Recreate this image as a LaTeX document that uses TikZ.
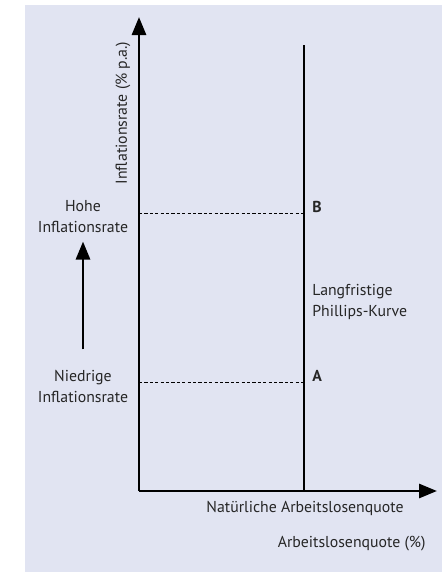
\documentclass[tikz,border=0pt]{standalone}
\usepackage{fontspec}
\setmainfont{PT Sans}
\usepackage{tikz}
\usetikzlibrary{arrows.meta,positioning}
\definecolor{bgblue}{RGB}{225,228,242}

\begin{document}
\begin{tikzpicture}[x=0.5pt, y=-0.5pt]
    % Define styles
    \tikzstyle{axis} = [line width=1.4pt, -{Triangle[length=9pt,width=7pt]}]
    \tikzstyle{curve} = [line width=1.4pt]
    \tikzstyle{level} = [dash pattern=on 1.6pt off 1.1pt, line width=0.5pt]
    \tikzstyle{txt} = [font=\fontsize{7.9}{10.5}\selectfont, align=center, inner sep=0pt, text=black!85]

    % Background
    \useasboundingbox (0,0) rectangle (442,573);
    \fill[bgblue] (25,5) rectangle (442,572);

    % Coordinates
    \coordinate (origin) at (139,491);
    \coordinate (ytop) at (139,17);
    \coordinate (xend) at (437,491);
    \coordinate (lptop) at (304,45);
    \coordinate (lpfoot) at (304,491);
    \coordinate (yb) at (139,213);
    \coordinate (pb) at (304,213);
    \coordinate (ya) at (139,382);
    \coordinate (pa) at (304,382);

    % Nodes
    \node[txt, rotate=90] (ylabel) at (123,113) {Inflationsrate (\% p.a.)};
    \node[txt] (high) at (83,217) {Hohe\\Inflationsrate};
    \node[txt] (low) at (83,386) {Niedrige\\Inflationsrate};
    \node[txt, anchor=west, font=\fontsize{7.9}{10.5}\selectfont\bfseries] (labb) at (312,207) {B};
    \node[txt, anchor=west, font=\fontsize{7.9}{10.5}\selectfont\bfseries] (laba) at (312,376) {A};
    \node[txt, anchor=west, align=left] (lpc) at (312,302) {Langfristige\\Phillips-Kurve};
    \node[txt] (natural) at (305,508) {Natürliche Arbeitslosenquote};
    \node[txt, anchor=east] (xlabel) at (426,544) {Arbeitslosenquote (\%)};

    % Connections
    \draw[axis] (origin) -- (ytop);
    \draw[axis] (origin) -- (xend);
    \draw[curve] (lpfoot) -- (lptop);
    \draw[level] (yb) -- (pb);
    \draw[level] (ya) -- (pa);
    \draw[axis, shorten <=10pt, shorten >=4pt] (low) -- (high);
\end{tikzpicture}
\end{document}
